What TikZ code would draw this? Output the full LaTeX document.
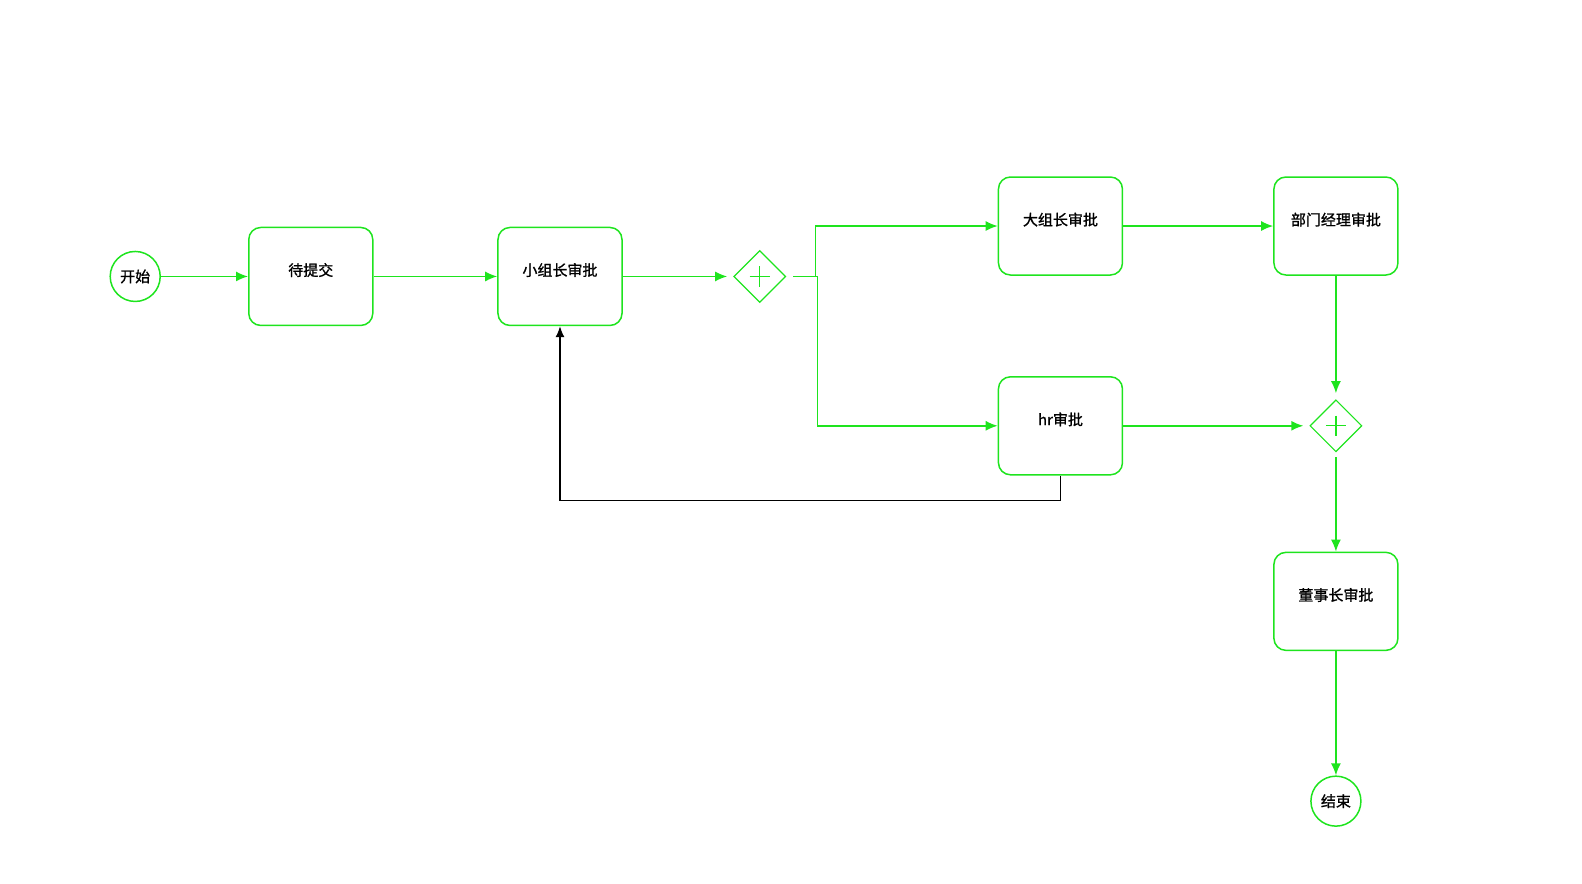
\documentclass[tikz,border=0pt]{standalone}
\usepackage{fontspec}
\newfontfamily\cjk{Noto Sans CJK SC}[FakeBold=1.2]
\usetikzlibrary{arrows.meta,shapes.geometric,positioning,calc}
\definecolor{flowgreen}{RGB}{30,228,30}

\tikzset{
    task/.style={draw=flowgreen, line width=1.5pt, rounded corners=12pt,
        minimum width=124pt, minimum height=98pt, text depth=14pt, font=\cjk\fontsize{15}{17}\selectfont},
    event/.style={draw=flowgreen, line width=1.5pt, circle, minimum size=50pt, inner sep=0pt,
        font=\cjk\fontsize{15}{17}\selectfont},
    gate/.style={draw=flowgreen, line width=1.2pt, diamond, minimum size=52pt, inner sep=0pt},
    flow/.style={draw=flowgreen, line width=1.5pt, -{Latex[length=12pt,width=10pt]}},
    back/.style={draw=black, line width=1.2pt, -{Latex[length=11pt,width=9pt]}}
}

\newcommand{\plus}[1]{\draw[flowgreen, line width=1.2pt] ($(#1)+(-10,0)$) -- ($(#1)+(10,0)$) ($(#1)+(0,-10)$) -- ($(#1)+(0,10)$);}

\begin{document}
\begin{tikzpicture}[x=1.009pt, y=-1.009pt]
    \useasboundingbox (0,0) rectangle (1567.9,876.1);
    % nodes
    \node[event] (start) at (134,274) {开始};
    \node[task] (wait) at (308,274) {待提交};
    \node[task] (small) at (555,274) {小组长审批};
    \node[gate] (g1) at (753,274) {};
    \node[task] (big) at (1051,224) {大组长审批};
    \node[task] (dept) at (1324,224) {部门经理审批};
    \node[task] (hr) at (1051,422) {hr审批};
    \node[gate] (g2) at (1324,422) {};
    \node[task] (boss) at (1324,596) {董事长审批};
    \node[event] (end) at (1324,794) {结束};
    \plus{g1}
    \plus{g2}
    % flows
    \draw[flow] (start) -- (wait);
    \draw[flow] (wait) -- (small);
    \draw[flow, shorten >=6pt] (small) -- (g1);
    \draw[flow, shorten <=7pt] (g1.east) -- ++(29,0) |- (big.west);
    \draw[flow, shorten <=7pt] (g1.east) -- ++(31,0) |- (hr.west);
    \draw[flow] (big) -- (dept);
    \draw[flow, shorten >=6pt] (dept) -- (g2);
    \draw[flow, shorten >=6pt] (hr) -- (g2);
    \draw[flow, shorten <=5pt] (g2.south) -- (boss.north);
    \draw[flow] (boss) -- (end);
    % back to small
    \draw[back] (hr.south) -- ++(0,25) -| (small.south);
\end{tikzpicture}
\end{document}
